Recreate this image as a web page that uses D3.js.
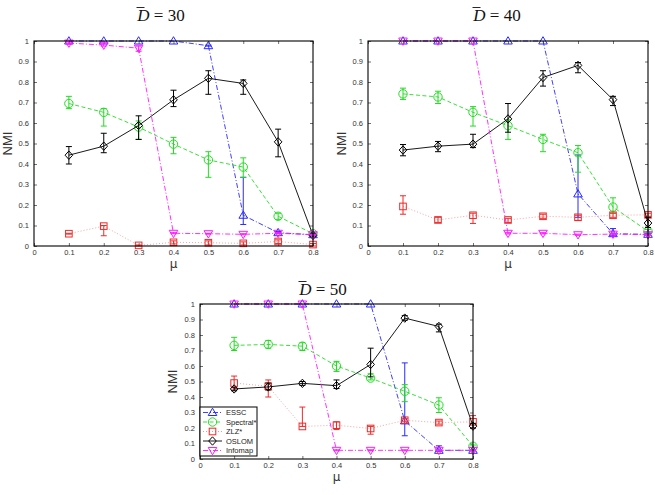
<!DOCTYPE html>
<html><head><meta charset="utf-8">
<script src="https://cdn.jsdelivr.net/npm/d3@7"></script>
<style>body{margin:0;background:#fff}svg{display:block}</style>
</head><body>
<svg id="c" width="655" height="495"></svg>
<script>
const mu = [0.1,0.2,0.3,0.4,0.5,0.6,0.7,0.8];
const xTicks = [0,0.1,0.2,0.3,0.4,0.5,0.6,0.7,0.8];
const yTicks = [0,0.1,0.2,0.3,0.4,0.5,0.6,0.7,0.8,0.9,1];
const seriesNames = ["ESSC","Spectral*","ZLZ*","OSLOM","Infomap"];
const panelTitles = ["30","40","50"];

// D = 30
const d30_essc    = [1,1,1,1,0.977,0.15,0.065,0.055];
const d30_essc_lo = [1,1,1,1,0.975,0.105,0.06,0.05];
const d30_essc_hi = [1,1,1,1,0.98,0.335,0.07,0.06];
const d30_spec    = [0.695,0.652,0.58,0.497,0.42,0.385,0.145,0.06];
const d30_spec_lo = [0.67,0.585,0.52,0.45,0.335,0.335,0.13,0.055];
const d30_spec_hi = [0.73,0.67,0.61,0.53,0.46,0.43,0.16,0.065];
const d30_zlz     = [0.06,0.097,0.003,0.018,0.016,0.013,0.022,0.007];
const d30_zlz_lo  = [0.058,0.05,0,0.01,0.005,0.005,0.012,0];
const d30_zlz_hi  = [0.062,0.1,0.005,0.025,0.025,0.02,0.03,0.012];
const d30_oslom   = [0.443,0.487,0.588,0.713,0.818,0.793,0.508,0.052];
const d30_oslom_lo= [0.4,0.455,0.52,0.68,0.74,0.74,0.435,0.045];
const d30_oslom_hi= [0.485,0.55,0.635,0.76,0.855,0.81,0.57,0.06];
const d30_info    = [0.99,0.98,0.965,0.062,0.06,0.057,0.062,0.055];
const d30_info_lo = [0.985,0.975,0.95,0.06,0.058,0.055,0.06,0.053];
const d30_info_hi = [0.995,0.99,0.975,0.065,0.062,0.06,0.065,0.058];

// D = 40
const d40_essc    = [1,1,1,1,1,0.254,0.06,0.057];
const d40_essc_lo = [1,1,1,1,1,0.14,0.05,0.055];
const d40_essc_hi = [1,1,1,1,1,0.444,0.085,0.06];
const d40_spec    = [0.742,0.727,0.652,0.587,0.52,0.455,0.19,0.072];
const d40_spec_lo = [0.715,0.695,0.585,0.52,0.46,0.36,0.16,0.065];
const d40_spec_hi = [0.77,0.755,0.68,0.615,0.545,0.49,0.235,0.08];
const d40_zlz     = [0.193,0.127,0.15,0.127,0.145,0.14,0.15,0.152];
const d40_zlz_lo  = [0.155,0.115,0.11,0.115,0.135,0.125,0.14,0.145];
const d40_zlz_hi  = [0.245,0.14,0.16,0.135,0.155,0.15,0.16,0.16];
const d40_oslom   = [0.468,0.487,0.497,0.62,0.822,0.881,0.714,0.112];
const d40_oslom_lo= [0.44,0.46,0.48,0.555,0.78,0.845,0.685,0.09];
const d40_oslom_hi= [0.495,0.51,0.545,0.695,0.855,0.895,0.73,0.14];
const d40_info    = [1,1,1,0.062,0.062,0.055,0.058,0.055];
const d40_info_lo = [1,1,1,0.059,0.059,0.052,0.055,0.052];
const d40_info_hi = [1,1,1,0.065,0.065,0.058,0.061,0.058];

// D = 50
const d50_essc    = [1,1,1,1,1,0.246,0.056,0.056];
const d50_essc_lo = [1,1,1,1,1,0.15,0.05,0.053];
const d50_essc_hi = [1,1,1,1,1,0.62,0.085,0.06];
const d50_spec    = [0.733,0.739,0.728,0.6,0.522,0.437,0.348,0.082];
const d50_spec_lo = [0.7,0.715,0.7,0.565,0.51,0.37,0.3,0.075];
const d50_spec_hi = [0.785,0.765,0.75,0.63,0.55,0.48,0.395,0.09];
const d50_zlz     = [0.49,0.469,0.21,0.218,0.197,0.25,0.235,0.24];
const d50_zlz_lo  = [0.445,0.4,0.21,0.19,0.16,0.24,0.225,0.2];
const d50_zlz_hi  = [0.535,0.51,0.335,0.24,0.21,0.26,0.245,0.28];
const d50_oslom   = [0.452,0.465,0.488,0.473,0.61,0.909,0.855,0.212];
const d50_oslom_lo= [0.44,0.445,0.475,0.455,0.53,0.895,0.82,0.2];
const d50_oslom_hi= [0.46,0.49,0.5,0.51,0.715,0.925,0.87,0.23];
const d50_info    = [1,1,1,0.056,0.056,0.056,0.056,0.056];
const d50_info_lo = [1,1,1,0.053,0.053,0.053,0.053,0.053];
const d50_info_hi = [1,1,1,0.059,0.059,0.059,0.059,0.059];

const styles = [
  {color:"#2a2aff", dash:"5,2,1,2", marker:"tri-up"},
  {color:"#22dd22", dash:"4,2.5", marker:"circle"},
  {color:"#ee2a2a", dash:"1,2", marker:"square", lineOpacity:0.55},
  {color:"#000000", dash:null, marker:"diamond"},
  {color:"#ff1aff", dash:"5,2,1,2", marker:"tri-down"}
];

const panels = [
  {title:panelTitles[0], box:[34,313,41,246], titleX:161, titleY:21, ylab:22,
   data:[[d30_essc,d30_essc_lo,d30_essc_hi],[d30_spec,d30_spec_lo,d30_spec_hi],[d30_zlz,d30_zlz_lo,d30_zlz_hi],[d30_oslom,d30_oslom_lo,d30_oslom_hi],[d30_info,d30_info_lo,d30_info_hi]]},
  {title:panelTitles[1], box:[368,648,41,246], titleX:497, titleY:21, ylab:22,
   data:[[d40_essc,d40_essc_lo,d40_essc_hi],[d40_spec,d40_spec_lo,d40_spec_hi],[d40_zlz,d40_zlz_lo,d40_zlz_hi],[d40_oslom,d40_oslom_lo,d40_oslom_hi],[d40_info,d40_info_lo,d40_info_hi]]},
  {title:panelTitles[2], box:[200,473,304,459], titleX:323, titleY:295, ylab:23, legend:true,
   data:[[d50_essc,d50_essc_lo,d50_essc_hi],[d50_spec,d50_spec_lo,d50_spec_hi],[d50_zlz,d50_zlz_lo,d50_zlz_hi],[d50_oslom,d50_oslom_lo,d50_oslom_hi],[d50_info,d50_info_lo,d50_info_hi]]}
];

const svg = d3.select("#c");

function drawMarker(g, type, x, y, color){
  let p;
  if(type==="circle"){
    p = g.append("circle").attr("cx",x).attr("cy",y).attr("r",4.2);
  } else if(type==="square"){
    p = g.append("rect").attr("x",x-3.3).attr("y",y-3.3).attr("width",6.6).attr("height",6.6);
  } else if(type==="diamond"){
    p = g.append("path").attr("d",`M${x},${y-4.2}L${x+3.8},${y}L${x},${y+4.2}L${x-3.8},${y}Z`);
  } else if(type==="tri-up"){
    p = g.append("path").attr("d",`M${x},${y-4.3}L${x+4.3},${y+3}L${x-4.3},${y+3}Z`);
  } else {
    p = g.append("path").attr("d",`M${x},${y+4.3}L${x+4.3},${y-3}L${x-4.3},${y-3}Z`);
  }
  p.attr("fill","none").attr("stroke",color).attr("stroke-width",1);
}

panels.forEach(P=>{
  const [x0,x1,y0,y1] = P.box;
  const x = d3.scaleLinear().domain([0,0.8]).range([x0,x1]);
  const y = d3.scaleLinear().domain([0,1]).range([y1,y0]);
  const g = svg.append("g");

  // title
  const t = g.append("text").attr("x",P.titleX).attr("y",P.titleY).attr("text-anchor","middle")
    .attr("font-family","Liberation Serif, DejaVu Serif, serif").attr("font-size",17).attr("fill","#111");
  t.append("tspan").attr("font-style","italic").text("D");
  t.append("tspan").text(" = " + P.title);
  g.append("line").attr("x1",P.titleX-24.5).attr("x2",P.titleX-16.5).attr("y1",P.titleY-13.5).attr("y2",P.titleY-13.5)
    .attr("stroke","#111").attr("stroke-width",0.9);

  const tickFont = "Liberation Sans, Arial, sans-serif";
  const xb = g.append("g").attr("transform",`translate(0,${y1})`)
    .call(d3.axisBottom(x).tickValues(xTicks).tickSize(-3).tickPadding(4).tickFormat(d=>d===0?"0":d3.format(".1f")(d)));
  const xt = g.append("g").attr("transform",`translate(0,${y0})`)
    .call(d3.axisTop(x).tickValues(xTicks).tickSize(-3).tickFormat(""));
  const yl = g.append("g").attr("transform",`translate(${x0},0)`)
    .call(d3.axisLeft(y).tickValues(yTicks).tickSize(-3).tickPadding(5).tickFormat(d=>d===0?"0":(d===1?"1":d3.format(".1f")(d))));
  const yr = g.append("g").attr("transform",`translate(${x1},0)`)
    .call(d3.axisRight(y).tickValues(yTicks).tickSize(-3).tickFormat(""));
  [xb,xt,yl,yr].forEach(a=>{
    a.select(".domain").remove();
    a.selectAll(".tick line").attr("stroke","#333").attr("stroke-width",0.7);
    a.selectAll("text").attr("font-family",tickFont).attr("font-size",7.5).attr("fill","#333");
  });

  P.data.forEach((s,si)=>{
    const st = styles[si];
    const [vals,lo,hi] = s;
    const pts = mu.map((m,i)=>({x:m,y:vals[i],lo:lo[i],hi:hi[i]}));
    const line = d3.line().x(d=>x(d.x)).y(d=>y(d.y));
    g.append("path").attr("d",line(pts)).attr("fill","none").attr("stroke",st.color)
      .attr("stroke-width",st.dash==="1,2"?0.8:0.9).attr("stroke-dasharray",st.dash)
      .attr("opacity",st.lineOpacity||1);
    pts.forEach(d=>{
      const cx = x(d.x);
      if(d.hi-d.lo>0.002){
        g.append("line").attr("x1",cx).attr("x2",cx).attr("y1",y(d.lo)).attr("y2",y(d.hi)).attr("stroke",st.color).attr("stroke-width",1);
        [d.lo,d.hi].forEach(v=>g.append("line").attr("x1",cx-3).attr("x2",cx+3).attr("y1",y(v)).attr("y2",y(v)).attr("stroke",st.color).attr("stroke-width",1));
      }
      drawMarker(g, st.marker, cx, y(d.y), st.color);
    });
  });

  g.append("rect").attr("x",x0).attr("y",y0).attr("width",x1-x0).attr("height",y1-y0)
    .attr("fill","none").attr("stroke","#000").attr("stroke-width",1.1);

  g.append("text").attr("x",(x0+x1)/2).attr("y",y1+22).attr("text-anchor","middle")
    .attr("font-family","DejaVu Sans, sans-serif").attr("font-size",12).attr("fill","#333").text("μ");
  g.append("text").attr("transform",`translate(${x0-P.ylab},${(y0+y1)/2}) rotate(-90)`).attr("text-anchor","middle")
    .attr("font-family","Liberation Sans, Arial, sans-serif").attr("font-size",13).attr("fill","#333").text("NMI");

  if(P.legend){
    const lx = x0, ly = 407, lw = 57, lh = 49;
    const lg = g.append("g");
    lg.append("rect").attr("x",lx).attr("y",ly).attr("width",lw).attr("height",lh).attr("fill","#fff").attr("stroke","#000").attr("stroke-width",1);
    seriesNames.forEach((n,i)=>{
      const st = styles[i];
      const yy = ly + 5.5 + i*9.5;
      lg.append("line").attr("x1",lx+3).attr("x2",lx+22).attr("y1",yy).attr("y2",yy)
        .attr("stroke",st.color).attr("stroke-width",0.9).attr("stroke-dasharray",st.dash).attr("opacity",st.lineOpacity||1);
      drawMarker(lg, st.marker, lx+12.5, yy, st.color);
      lg.append("text").attr("x",lx+26).attr("y",yy+2.8).attr("font-family",tickFont).attr("font-size",7.5).attr("fill","#222").text(n);
    });
  }
});
</script>
</body></html>
